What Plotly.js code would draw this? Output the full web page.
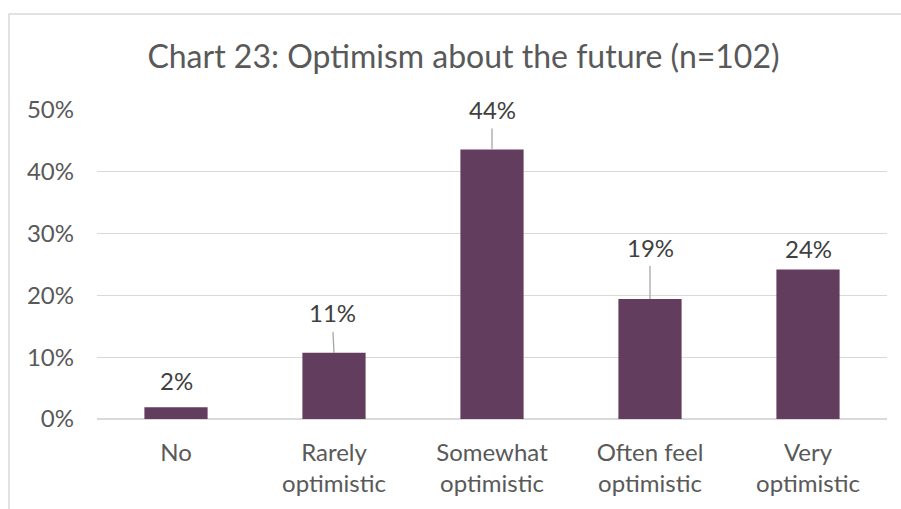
<!DOCTYPE html>
<html>
<head>
<meta charset="utf-8">
<script src="https://cdn.plot.ly/plotly-3.0.1.min.js"></script>
<style>
  html, body { margin: 0; padding: 0; background: #ffffff; }
  #chart { width: 901px; height: 509px; }
</style>
</head>
<body>
<div id="chart"></div>
<script>
// ---- Data ----
const categories = [
  'No',
  'Rarely<br>optimistic',
  'Somewhat<br>optimistic',
  'Often feel<br>optimistic',
  'Very<br>optimistic'
];
const values = [1.9, 10.7, 43.6, 19.4, 24.2];   // percent of respondents
const yTicks = [0, 10, 20, 30, 40, 50];
const titleText = 'Chart 23: Optimism about the future (n=102)';

// ---- Styling (label placement, not data) ----
const labelLift = [27, 40, 40, 52, 21];      // px above bar top (label centre)
const labelShiftX = [0, -2, 0, 0, 0];
const leaderLine = [false, true, true, true, false];

const FONT = 'Lato, "Open Sans", "Liberation Sans", sans-serif';
const BAR = '#633d5d';
const GRID = '#d9d9d9';
const TXT = '#595959';

const trace = {
  type: 'bar',
  x: categories,
  y: values,
  marker: { color: BAR, line: { width: 0 } },
  hoverinfo: 'skip'
};

const annotations = categories.map((c, i) => {
  const label = Math.round(values[i]) + '%';
  const base = {
    x: c, y: values[i], xref: 'x', yref: 'y',
    text: label,
    font: { family: FONT, size: 24, color: '#404040' },
    xanchor: 'center', yanchor: 'middle'
  };
  if (leaderLine[i]) {
    return Object.assign(base, {
      showarrow: true, arrowhead: 0, arrowwidth: 1.3, arrowcolor: '#a6a6a6',
      standoff: 0, startstandoff: 0, borderpad: 4,
      ax: labelShiftX[i], ay: -labelLift[i]
    });
  }
  return Object.assign(base, { showarrow: false, yshift: labelLift[i], xshift: labelShiftX[i] });
});

const layout = {
  width: 901,
  height: 509,
  margin: { l: 97, r: 14, t: 110, b: 90, pad: 0 },
  paper_bgcolor: '#ffffff',
  plot_bgcolor: '#ffffff',
  font: { family: FONT, color: TXT, size: 24 },
  title: {
    text: titleText,
    font: { family: FONT, size: 32, color: TXT },
    x: 0.5144, xref: 'container', xanchor: 'center',
    y: 1 - 57 / 509, yref: 'container', yanchor: 'middle'
  },
  bargap: 0.6,
  showlegend: false,
  xaxis: {
    type: 'category',
    showgrid: false,
    showline: false,
    zeroline: false,
    ticks: '',
    tickfont: { family: FONT, size: 24, color: TXT },
    ticklabelstandoff: 17,
    fixedrange: true
  },
  yaxis: {
    range: [0, 50],
    tickvals: yTicks,
    ticktext: yTicks.map(v => v + '%'),
    showgrid: true,
    gridcolor: GRID,
    gridwidth: 1.2,
    zeroline: true,
    zerolinecolor: GRID,
    zerolinewidth: 1.2,
    showline: false,
    ticks: '',
    tickfont: { family: FONT, size: 24, color: TXT },
    ticklabelstandoff: 22,
    fixedrange: true
  },
  shapes: [{
    type: 'rect', xref: 'paper', yref: 'paper',
    x0: (9 - 97) / 790, x1: (915 - 97) / 790,
    y0: (419 - 14) / 309, y1: (419 - 530) / 309,
    line: { color: GRID, width: 1.5 },
    fillcolor: 'rgba(0,0,0,0)',
    layer: 'below'
  }],
  annotations: annotations
};

Plotly.newPlot('chart', [trace], layout, { displayModeBar: false, staticPlot: true });
</script>
</body>
</html>
